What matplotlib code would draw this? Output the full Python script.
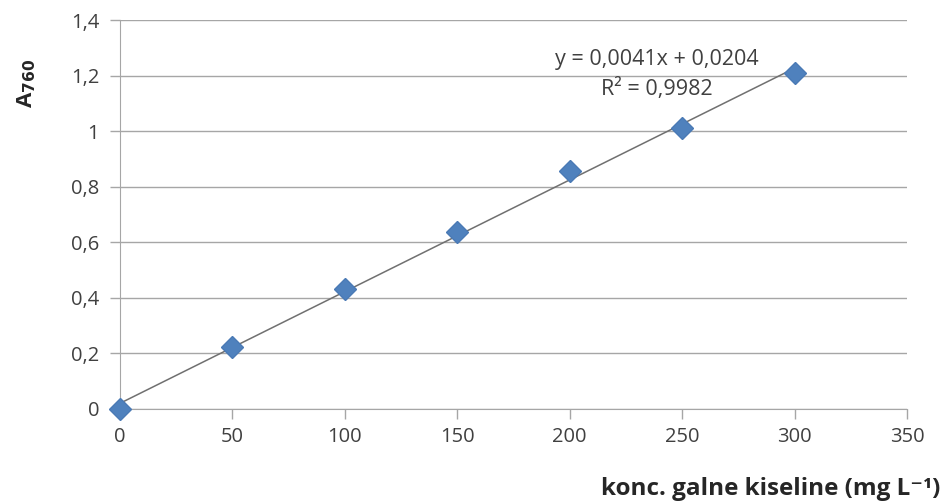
import numpy as np
import matplotlib
matplotlib.use("Agg")
import matplotlib.pyplot as plt

# calibration data: gallic acid concentration vs absorbance at 760 nm
conc = [0, 50, 100, 150, 200, 250, 300]
absorb = [0.0, 0.222, 0.432, 0.636, 0.855, 1.01, 1.21]
eq_text = "y = 0,0041x + 0,0204"
r2_text = "R² = 0,9982"
xticks = [0, 50, 100, 150, 200, 250, 300, 350]
yticks = [0, 0.2, 0.4, 0.6, 0.8, 1.0, 1.2, 1.4]

plt.rcParams['font.family'] = ['Open Sans', 'DejaVu Sans']

fig = plt.figure(figsize=(9.47, 5.04), dpi=100)
ax = fig.add_axes([0.1267, 0.1885, 0.8311, 0.7718])

grid_c = "#a6a6a6"
ax.set_xlim(0, 350)
ax.set_ylim(0, 1.4)
ax.set_xticks(xticks)
ax.set_yticks(yticks)
ax.set_xticklabels([str(v) for v in xticks])
ax.set_yticklabels([("%g" % v).replace(".", ",") for v in yticks])
ax.yaxis.grid(True, color=grid_c, lw=1)
ax.set_axisbelow(True)
for s in ["top", "right"]:
    ax.spines[s].set_visible(False)
for s in ["left", "bottom"]:
    ax.spines[s].set_color(grid_c)
ax.tick_params(axis="both", colors=grid_c, labelcolor="#404040", labelsize=14.5,
               length=7, width=1, direction="out")
ax.tick_params(axis="x", pad=6)
ax.tick_params(axis="y", pad=8)

# linear trend line
k, b = np.polyfit(conc, absorb, 1)
xs = np.array([min(conc), max(conc)])
ax.plot(xs, k * xs + b, color="#707070", lw=1.1, zorder=2)

ax.plot(conc, absorb, ls="none", marker="D", ms=11.5, color="#4f81bd",
        markeredgecolor="#4a7ab5", zorder=3, clip_on=False)

ax.text(0.682, 0.885, eq_text, transform=ax.transAxes, ha="center",
        fontsize=15.5, color="#404040")
ax.text(0.682, 0.808, r2_text, transform=ax.transAxes, ha="center",
        fontsize=15.5, color="#404040")

fig.text(0.028, 0.835, r"A$_{\mathbf{760}}$", rotation=90, ha="center", va="center",
         fontsize=16, fontweight="bold", color="#262626")
fig.text(0.993, 0.03, "konc. galne kiseline (mg L⁻¹)", ha="right",
         va="center", fontsize=17.5, fontweight="bold", color="#262626")

fig.savefig("out.png", dpi=100)
